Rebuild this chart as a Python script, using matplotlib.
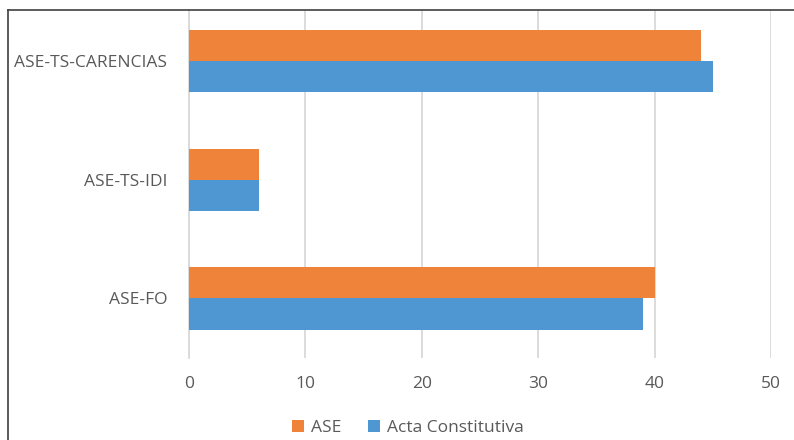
import matplotlib.pyplot as plt
import numpy as np
from matplotlib.lines import Line2D

# datos de la gráfica
categorias = ['ASE-FO', 'ASE-TS-IDI', 'ASE-TS-CARENCIAS']
ase = [40, 6, 44]
acta = [39, 6, 45]
xticks = [0, 10, 20, 30, 40, 50]

plt.rcParams['font.family'] = ['Open Sans', 'DejaVu Sans']
gris = '#595959'
naranja = '#F0833A'
azul = '#4E97D3'

fig = plt.figure(figsize=(7.94, 4.4), dpi=100)
ax = fig.add_axes([189 / 794, 1 - 357.8 / 440, (771 - 189) / 794, (357.8 - 10) / 440])

y = np.arange(len(categorias))
h = 0.262
ax.barh(y + h / 2, ase, height=h, color=naranja, label='ASE', zorder=3)
ax.barh(y - h / 2, acta, height=h, color=azul, label='Acta Constitutiva', zorder=3)

ax.set_xlim(0, 50)
ax.set_ylim(-0.5, 2.43)
ax.set_xticks(xticks)
ax.set_yticks(y)
ax.set_yticklabels(categorias)
ax.grid(axis='x', color='#D9D9D9', linewidth=1.3, zorder=0)
for s in ['top', 'right', 'bottom']:
    ax.spines[s].set_visible(False)
ax.spines['left'].set_color('#D9D9D9')
ax.spines['left'].set_linewidth(1.3)
ax.tick_params(axis='both', length=0, labelsize=12.5, colors=gris)
ax.tick_params(axis='x', pad=13)
ax.tick_params(axis='y', pad=15.5)

fig.legend(loc='center', bbox_to_anchor=(408 / 794, 1 - 428 / 440), ncol=2, frameon=False,
           fontsize=12.5, labelcolor=gris, handlelength=0.72, handleheight=0.72,
           handletextpad=0.4, columnspacing=1.5)

# borde del recorte
fig.add_artist(Line2D([8 / 794, 1], [1 - 10 / 440, 1 - 10 / 440], color='#404040', linewidth=1.2))
fig.add_artist(Line2D([8 / 794, 8 / 794], [0, 1 - 10 / 440], color='#404040', linewidth=1.2))

fig.savefig('out.png', dpi=100)
